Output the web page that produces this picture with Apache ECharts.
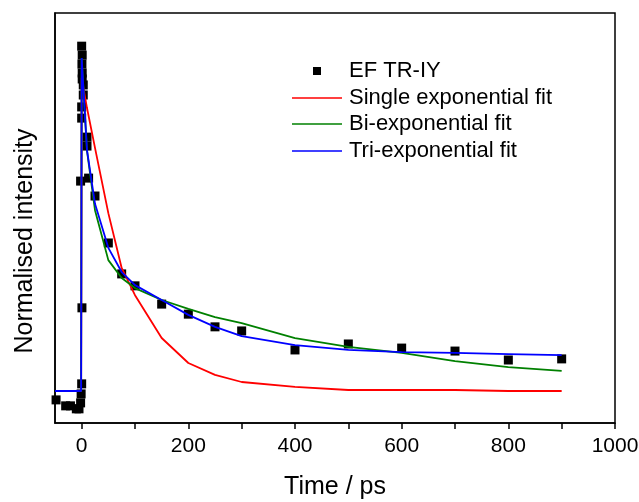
<!DOCTYPE html>
<html>
<head>
<meta charset="utf-8">
<script src="https://cdn.jsdelivr.net/npm/echarts@6/dist/echarts.min.js"></script>
<style>
html,body{margin:0;padding:0;background:#fff;}
#main{width:639px;height:502px;}
</style>
</head>
<body>
<div id="main"></div>
<script>
// Measured data (time in ps, normalised intensity in arbitrary units)
const dataTime = [-48, -30, -21, -10, -5, -2, -1, 0, 0.5, -2, 0, 0, 1, 1, 0.5, 1, 0, 3, 3, 10, 10, 13, 25,
  50, 75, 100, 150, 200, 250, 300, 400, 500, 600, 700, 800, 900];
const dataIntensity = [0.062, 0.046, 0.046, 0.038, 0.038, 0.054, 0.078, 0.105, 0.309, 0.649, 0.818, 0.848, 0.923, 0.939, 0.963, 0.987, 1.011, 0.907, 0.880, 0.767, 0.743, 0.657, 0.609,
  0.483, 0.400, 0.368, 0.319, 0.292, 0.258, 0.247, 0.196, 0.212, 0.201, 0.193, 0.169, 0.172];

// Fit curves evaluated at these times
const fitTime = [-50, -1, 0, 10, 25, 50, 75, 100, 150, 200, 250, 300, 400, 500, 600, 700, 800, 900];
const singleFit = [0.0859, 0.0859, 0.926, 0.845, 0.738, 0.563, 0.416, 0.343, 0.228, 0.161, 0.129, 0.110, 0.097, 0.0885, 0.0885, 0.0885, 0.0859, 0.0859];
const biFit = [0.0859, 0.0859, 0.979, 0.730, 0.571, 0.437, 0.389, 0.362, 0.330, 0.306, 0.284, 0.268, 0.228, 0.204, 0.188, 0.166, 0.150, 0.140];
const triFit = [0.0859, 0.0859, 0.979, 0.732, 0.588, 0.470, 0.405, 0.370, 0.330, 0.290, 0.258, 0.233, 0.209, 0.196, 0.190, 0.188, 0.185, 0.182];

const xTickValues = [0, 100, 200, 300, 400, 500, 600, 700, 800, 900, 1000];
const xLabelValues = [0, 200, 400, 600, 800, 1000];

const seriesNames = ['EF TR-IY', 'Single exponential fit', 'Bi-exponential fit', 'Tri-exponential fit'];
const seriesColors = ['#000000', '#ff0000', '#008000', '#0000ff'];

const FONT = 'Liberation Sans, Arial, sans-serif';

function pairs(xs, ys) { return xs.map((x, i) => [x, ys[i]]); }

const chart = echarts.init(document.getElementById('main'), null, {renderer: 'canvas'});

// legend as graphic elements
const legendX = 292, legendTextX = 349, legendYs = [71, 98, 124, 151];
const legendGraphics = [];
legendGraphics.push({
  type: 'rect', shape: {x: 313, y: legendYs[0] - 4, width: 8, height: 8},
  style: {fill: seriesColors[0]}
});
for (let i = 1; i < 4; i++) {
  legendGraphics.push({
    type: 'line', shape: {x1: legendX, y1: legendYs[i], x2: legendX + 50, y2: legendYs[i]},
    style: {stroke: seriesColors[i], lineWidth: 1.5}
  });
}
for (let i = 0; i < 4; i++) {
  legendGraphics.push({
    type: 'text', x: legendTextX, y: legendYs[i],
    style: {text: seriesNames[i], fill: '#000', font: '22px ' + FONT, textAlign: 'left', textVerticalAlign: 'middle'}
  });
}
legendGraphics.push({
  type: 'text', x: 25, y: 241, rotation: Math.PI / 2,
  style: {text: 'Normalised intensity', fill: '#000', font: '25px ' + FONT, textAlign: 'center', textVerticalAlign: 'middle'}
});

chart.setOption({
  animation: false,
  backgroundColor: '#fff',
  grid: {left: 55, right: 24, top: 13, bottom: 79, show: true, borderColor: '#000', borderWidth: 1.5,
         containLabel: false, outerBoundsMode: 'none'},
  xAxis: {
    type: 'value', min: -50, max: 1000,
    name: 'Time / ps', nameLocation: 'middle', nameGap: 52,
    nameTextStyle: {fontSize: 25, color: '#000', fontFamily: FONT},
    axisLine: {show: true, onZero: false, lineStyle: {color: '#000', width: 1.5}},
    axisTick: {show: true, inside: false, length: 6, customValues: xTickValues, lineStyle: {color: '#000', width: 1.5}},
    axisLabel: {show: true, customValues: xLabelValues, fontSize: 21, color: '#000', fontFamily: FONT, margin: 13,
                formatter: function (v) { return String(v); }},
    splitLine: {show: false}, minorTick: {show: false}
  },
  yAxis: {
    type: 'value', min: 0, max: 1.1,
    axisLine: {show: true, onZero: false, lineStyle: {color: '#000', width: 1.5}},
    axisTick: {show: false}, axisLabel: {show: false}, splitLine: {show: false}
  },
  graphic: legendGraphics,
  series: [
    {name: seriesNames[0], type: 'scatter', symbol: 'rect', symbolSize: 9,
     itemStyle: {color: seriesColors[0], opacity: 1}, data: pairs(dataTime, dataIntensity), z: 2},
    {name: seriesNames[1], type: 'line', showSymbol: false, symbol: 'none',
     lineStyle: {color: seriesColors[1], width: 1.8}, data: pairs(fitTime, singleFit), z: 3},
    {name: seriesNames[2], type: 'line', showSymbol: false, symbol: 'none',
     lineStyle: {color: seriesColors[2], width: 1.8}, data: pairs(fitTime, biFit), z: 3},
    {name: seriesNames[3], type: 'line', showSymbol: false, symbol: 'none',
     lineStyle: {color: seriesColors[3], width: 1.8}, data: pairs(fitTime, triFit), z: 3}
  ]
});
</script>
</body>
</html>
